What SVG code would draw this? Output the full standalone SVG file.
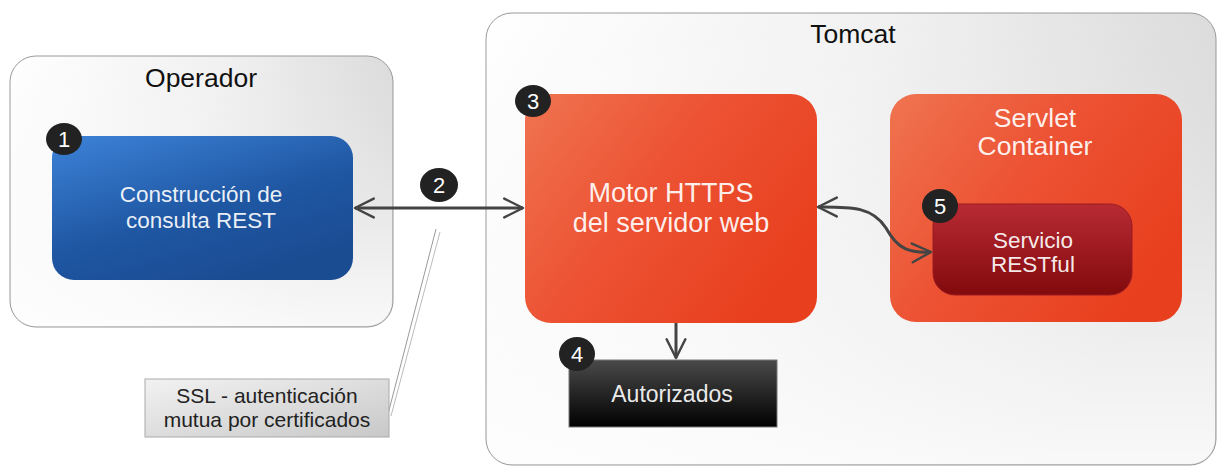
<svg xmlns="http://www.w3.org/2000/svg" width="1219" height="468" viewBox="0 0 1219 468">
<defs>
  <linearGradient id="gCont" x1="0" y1="0" x2="1" y2="0.4">
    <stop offset="0" stop-color="#ffffff"/>
    <stop offset="0.5" stop-color="#f0f0f0"/>
    <stop offset="1" stop-color="#d4d4d4"/>
  </linearGradient>
  <linearGradient id="gContV" x1="0" y1="0" x2="0" y2="1">
    <stop offset="0" stop-color="#ffffff" stop-opacity="0"/>
    <stop offset="1" stop-color="#ffffff" stop-opacity="0.85"/>
  </linearGradient>
  <linearGradient id="gBlue" x1="0" y1="0" x2="0.6" y2="1">
    <stop offset="0" stop-color="#3d83d8"/>
    <stop offset="0.6" stop-color="#1f57a3"/>
    <stop offset="1" stop-color="#1a4c92"/>
  </linearGradient>
  <linearGradient id="gRed" x1="0" y1="0" x2="1" y2="0.6">
    <stop offset="0" stop-color="#f07450"/>
    <stop offset="0.5" stop-color="#ec5233"/>
    <stop offset="1" stop-color="#e8401f"/>
  </linearGradient>
  <linearGradient id="gDark" x1="0" y1="0" x2="0" y2="1">
    <stop offset="0" stop-color="#b82a34"/>
    <stop offset="1" stop-color="#820a0c"/>
  </linearGradient>
  <linearGradient id="gBlack" x1="0" y1="0" x2="0" y2="1">
    <stop offset="0" stop-color="#4a4a4a"/>
    <stop offset="1" stop-color="#000000"/>
  </linearGradient>
  <linearGradient id="gNote" x1="0" y1="0" x2="1" y2="1">
    <stop offset="0" stop-color="#f2f2f2"/>
    <stop offset="1" stop-color="#c8c8c8"/>
  </linearGradient>
  <marker id="arr" viewBox="0 0 12 12" refX="11" refY="6" markerWidth="7.5" markerHeight="7.5" orient="auto-start-reverse" markerUnits="strokeWidth">
    <path d="M1,1 L11,6 L1,11" fill="none" stroke="#444" stroke-width="1.3" stroke-linecap="round" stroke-linejoin="round"/>
  </marker>
</defs>
<style>
  text { font-family: "Liberation Sans", Arial, sans-serif; text-anchor: middle; }
  .title { font-size: 26.5px; fill: #111; }
  .lbl { fill: #fff; fill-opacity: 0.92; }
  .badge ellipse { fill: #222; }
  .badge text { fill: #fff; font-size: 22px; }
  .conn { fill: none; stroke: #444; stroke-width: 3; }
  .cont { stroke: #9a9a9a; stroke-width: 1; }
</style>
<rect width="1219" height="468" fill="#ffffff"/>

<g id="operador">
  <rect class="cont" x="10" y="56" width="383" height="271" rx="26" fill="url(#gCont)"/>
  <rect x="11" y="57" width="381" height="269" rx="25" fill="url(#gContV)"/>
  <text class="title" x="201" y="87">Operador</text>
</g>

<g id="tomcat">
  <rect class="cont" x="486" y="13" width="730" height="452" rx="26" fill="url(#gCont)"/>
  <rect x="487" y="14" width="728" height="450" rx="25" fill="url(#gContV)"/>
  <text class="title" x="853" y="43">Tomcat</text>
</g>

<g id="nota-ssl">
  <line x1="436" y1="229" x2="388" y2="414" stroke="#999" stroke-width="1"/>
  <line x1="440" y1="232" x2="391" y2="416" stroke="#bbb" stroke-width="1"/>
  <rect x="145" y="379" width="244" height="58" fill="url(#gNote)" stroke="#aaa" stroke-width="1"/>
  <text x="267" y="403" font-size="21" fill="#222">SSL - autenticación</text>
  <text x="267" y="427" font-size="21" fill="#222">mutua por certificados</text>
</g>

<g id="n1">
  <rect x="52" y="136" width="301" height="144" rx="22" fill="url(#gBlue)"/>
  <text class="lbl" x="201" y="202" font-size="22.5">Construcción de</text>
  <text class="lbl" x="201" y="228" font-size="22.5">consulta REST</text>
  <g class="badge"><ellipse cx="64" cy="139" rx="18" ry="16"/><text x="64" y="147">1</text></g>
</g>

<g id="n3">
  <rect x="525" y="94" width="292" height="229" rx="26" fill="url(#gRed)"/>
  <text class="lbl" x="671" y="202" font-size="27">Motor HTTPS</text>
  <text class="lbl" x="671" y="232" font-size="27">del servidor web</text>
  <g class="badge"><ellipse cx="533" cy="101" rx="18" ry="16"/><text x="533" y="109">3</text></g>
</g>

<g id="servlet">
  <rect x="890" y="94" width="292" height="228" rx="26" fill="url(#gRed)"/>
  <text class="lbl" x="1035" y="127" font-size="26.5">Servlet</text>
  <text class="lbl" x="1035" y="155" font-size="26.5">Container</text>
</g>

<g id="n5">
  <rect x="933" y="204" width="199" height="91" rx="22" fill="url(#gDark)" stroke="#9a1a20" stroke-width="1"/>
  <text class="lbl" x="1033" y="248" font-size="22.5">Servicio</text>
  <text class="lbl" x="1033" y="272" font-size="22.5">RESTful</text>
  <g class="badge"><ellipse cx="940" cy="206" rx="18" ry="17"/><text x="940" y="214">5</text></g>
</g>

<g id="n4">
  <rect x="569" y="360" width="208" height="67" fill="url(#gBlack)" stroke="#777" stroke-width="1"/>
  <text class="lbl" x="672" y="402" font-size="23">Autorizados</text>
  <g class="badge"><ellipse cx="577" cy="354" rx="18" ry="17"/><text x="577" y="362">4</text></g>
</g>

<g id="connectors">
  <line class="conn" x1="355" y1="208" x2="523" y2="208" marker-start="url(#arr)" marker-end="url(#arr)"/>
  <path class="conn" d="M818,207 C850,207 872,206 886,228 C898,250 910,253 931,252" marker-start="url(#arr)" marker-end="url(#arr)"/>
  <line class="conn" x1="676" y1="323" x2="676" y2="358" marker-end="url(#arr)"/>
  <g class="badge"><ellipse cx="439" cy="185" rx="19" ry="17"/><text x="439" y="193">2</text></g>
</g>
</svg>
